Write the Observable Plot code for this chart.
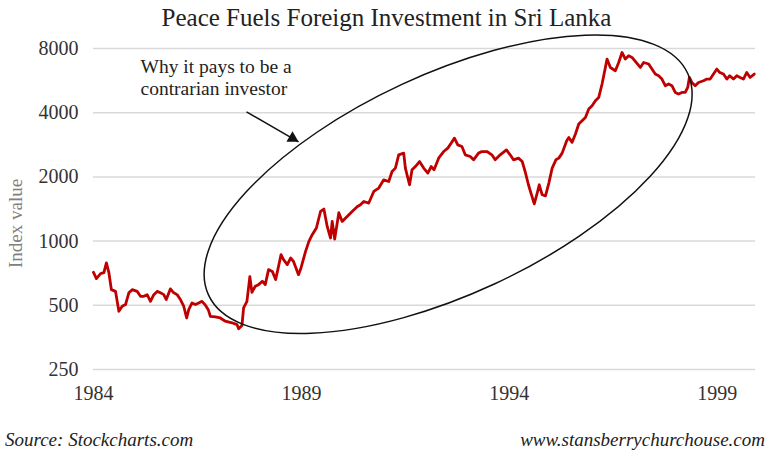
<!DOCTYPE html>
<html>
<head>
<meta charset="utf-8">
<script src="https://cdn.jsdelivr.net/npm/d3@7"></script>
<script src="https://cdn.jsdelivr.net/npm/@observablehq/plot@0.6"></script>
<style>
  body { margin: 0; background: #fff; width: 773px; height: 457px; overflow: hidden; font-family: "Liberation Serif", serif; }
  #title { height: 36px; line-height: 36px; text-align: center; font-size: 25px; color: #222; white-space: nowrap; }
  #chart { height: 384px; }
  #footer { position: relative; height: 37px; font-style: italic; font-size: 19px; color: #222; }
  #footer .l { position: absolute; left: 5px; top: 9px; }
  #footer .r { position: absolute; right: 8px; top: 9px; }
</style>
</head>
<body>
<div id="title">Peace Fuels Foreign Investment in Sri Lanka</div>
<div id="chart"></div>
<div id="footer"><span class="l">Source: Stockcharts.com</span><span class="r">www.stansberrychurchouse.com</span></div>
<script>
// ---- data (decimal year, index value) ----
const years = [
  1984.00,1984.07,1984.17,1984.25,1984.31,1984.37,1984.43,1984.53,1984.61,1984.69,
  1984.77,1984.85,1984.93,1985.05,1985.13,1985.21,1985.29,1985.37,1985.45,1985.53,
  1985.61,1985.69,1985.75,1985.85,1985.93,1986.01,1986.09,1986.17,1986.24,1986.29,
  1986.37,1986.45,1986.53,1986.61,1986.68,1986.76,1986.81,1986.93,1987.05,1987.17,
  1987.33,1987.45,1987.49,1987.57,1987.61,1987.69,1987.76,1987.81,1987.89,1987.97,
  1988.06,1988.13,1988.21,1988.30,1988.38,1988.45,1988.51,1988.57,1988.66,1988.74,
  1988.81,1988.93,1988.99,1989.10,1989.18,1989.26,1989.36,1989.46,1989.54,1989.62,
  1989.70,1989.74,1989.80,1989.90,1989.98,1990.10,1990.22,1990.34,1990.42,1990.50,
  1990.62,1990.74,1990.86,1990.98,1991.10,1991.18,1991.26,1991.34,1991.46,1991.50,
  1991.60,1991.66,1991.74,1991.84,1991.94,1992.04,1992.12,1992.19,1992.30,1992.42,
  1992.52,1992.60,1992.68,1992.76,1992.86,1992.94,1993.06,1993.14,1993.26,1993.34,
  1993.46,1993.58,1993.66,1993.78,1993.93,1994.02,1994.10,1994.22,1994.31,1994.38,
  1994.46,1994.52,1994.60,1994.67,1994.72,1994.79,1994.87,1994.95,1995.03,1995.12,
  1995.19,1995.27,1995.38,1995.43,1995.51,1995.59,1995.67,1995.83,1995.91,1995.99,
  1996.07,1996.15,1996.23,1996.31,1996.35,1996.43,1996.55,1996.63,1996.71,1996.79,
  1996.87,1996.95,1997.05,1997.15,1997.23,1997.35,1997.43,1997.51,1997.59,1997.67,
  1997.75,1997.83,1997.91,1997.99,1998.07,1998.15,1998.23,1998.29,1998.33,1998.39,
  1998.47,1998.55,1998.67,1998.75,1998.83,1998.91,1998.99,1999.06,1999.15,1999.23,
  1999.30,1999.39,1999.47,1999.55,1999.63,1999.71,1999.79,1999.89
];
const values = [
  714,667,704,711,790,711,592,581,469,495,
  504,572,592,581,551,551,561,522,561,581,
  572,561,532,597,572,561,532,495,436,477,
  513,504,513,522,504,477,444,441,436,421,
  414,406,388,402,486,522,681,575,614,625,
  648,625,735,721,660,761,864,818,775,833,
  803,696,748,895,997,1071,1152,1377,1413,1172,
  1034,1237,1023,1358,1237,1305,1377,1449,1480,1534,
  1508,1709,1773,1938,1903,2120,2199,2538,2585,2199,
  1837,2159,2237,2361,2199,2084,2237,2159,2449,2630,
  2728,2879,3039,2827,2776,2538,2492,2405,2585,2630,
  2630,2538,2405,2538,2678,2538,2405,2449,2361,2120,
  1837,1680,1496,1680,1837,1649,1631,1871,2199,2405,
  2449,2585,2958,3062,2904,3179,3541,3802,4163,4314,
  4553,4717,5451,6518,7137,6518,6291,6880,7662,7137,
  7395,7261,6880,6518,6880,6765,6407,6071,5961,5752,
  5352,5451,5352,4979,4893,4979,4979,5254,5852,5545,
  5352,5545,5648,5752,5752,6071,6407,6176,6071,5752,
  5961,5752,5961,5852,5752,6176,5852,6071
];
const xTicks = [1984, 1989, 1994, 1999];
const yTicks = [250, 500, 1000, 2000, 4000, 8000];

// annotation anchors (data coordinates)
const noteLines = ["Why it pays to be a", "contrarian investor"];
const noteAt = [1985.13, 5886];
const arrowFrom = [1987.68, 4037];
const arrowTo = [1988.93, 2921];
const ellipseCenter = [1992.54, 1838];
const axisLabel = "Index value";
const axisLabelAt = 1210;

const data = years.map((y, i) => ({year: y, value: values[i]}));
const yTickRows = yTicks.map(v => ({value: v, label: String(v)}));
const arrowRow = {x1: arrowFrom[0], y1: arrowFrom[1], x2: arrowTo[0], y2: arrowTo[1]};

const plot = Plot.plot({
  width: 773,
  height: 384,
  marginTop: 12,
  marginBottom: 51,
  marginLeft: 93,
  marginRight: 18,
  style: {fontFamily: '"Liberation Serif", serif', fontSize: "20px", color: "#333", background: "#fff", overflow: "visible"},
  x: {domain: [1984, 1999.92], ticks: xTicks, tickFormat: d => String(d), tickSize: 0, tickPadding: 16, label: null},
  y: {type: "log", domain: [250, 8000], axis: null},
  marks: [
    Plot.ruleY(yTickRows, {y: "value", stroke: "#d9d9d9", strokeWidth: 1.5}),
    Plot.text(yTickRows, {y: "value", text: "label", frameAnchor: "left", textAnchor: "end", dx: -15, fontSize: 20, fill: "#333"}),
    Plot.line(data, {x: "year", y: "value", stroke: "#c00000", strokeWidth: 2.8, strokeLinejoin: "round", strokeLinecap: "round"}),
    Plot.text([noteLines.join("\n")], {x: noteAt[0], y: noteAt[1], text: d => d, textAnchor: "start", lineAnchor: "middle", lineHeight: 1.1, fontSize: 19.5, fill: "#222"}),
    Plot.link([arrowRow], {x1: "x1", y1: "y1", x2: "x2", y2: "y2", stroke: "#111", strokeWidth: 1.5}),
    Plot.dot([arrowRow], {x: "x2", y: "y2", symbol: "triangle", r: 4.5, fill: "#111", stroke: "none", rotate: 120, dx: -6, dy: -3.5}),
    Plot.text([axisLabel], {frameAnchor: "left", y: axisLabelAt, text: d => d, textAnchor: "middle", dx: -78, rotate: -90, fill: "#808080", fontSize: 19})
  ]
});

// ellipse annotation positioned through the plot's own scales
const sx = plot.scale("x"), sy = plot.scale("y");
const ecx = sx.apply(ellipseCenter[0]);
const ecy = sy.apply(ellipseCenter[1]);
d3.select(plot).append("ellipse")
  .attr("cx", 0).attr("cy", 0)
  .attr("rx", 264).attr("ry", 110)
  .attr("transform", `translate(${ecx},${ecy}) rotate(-24.85)`)
  .attr("fill", "none").attr("stroke", "#111").attr("stroke-width", 1.5);

document.getElementById("chart").appendChild(plot);
</script>
</body>
</html>
